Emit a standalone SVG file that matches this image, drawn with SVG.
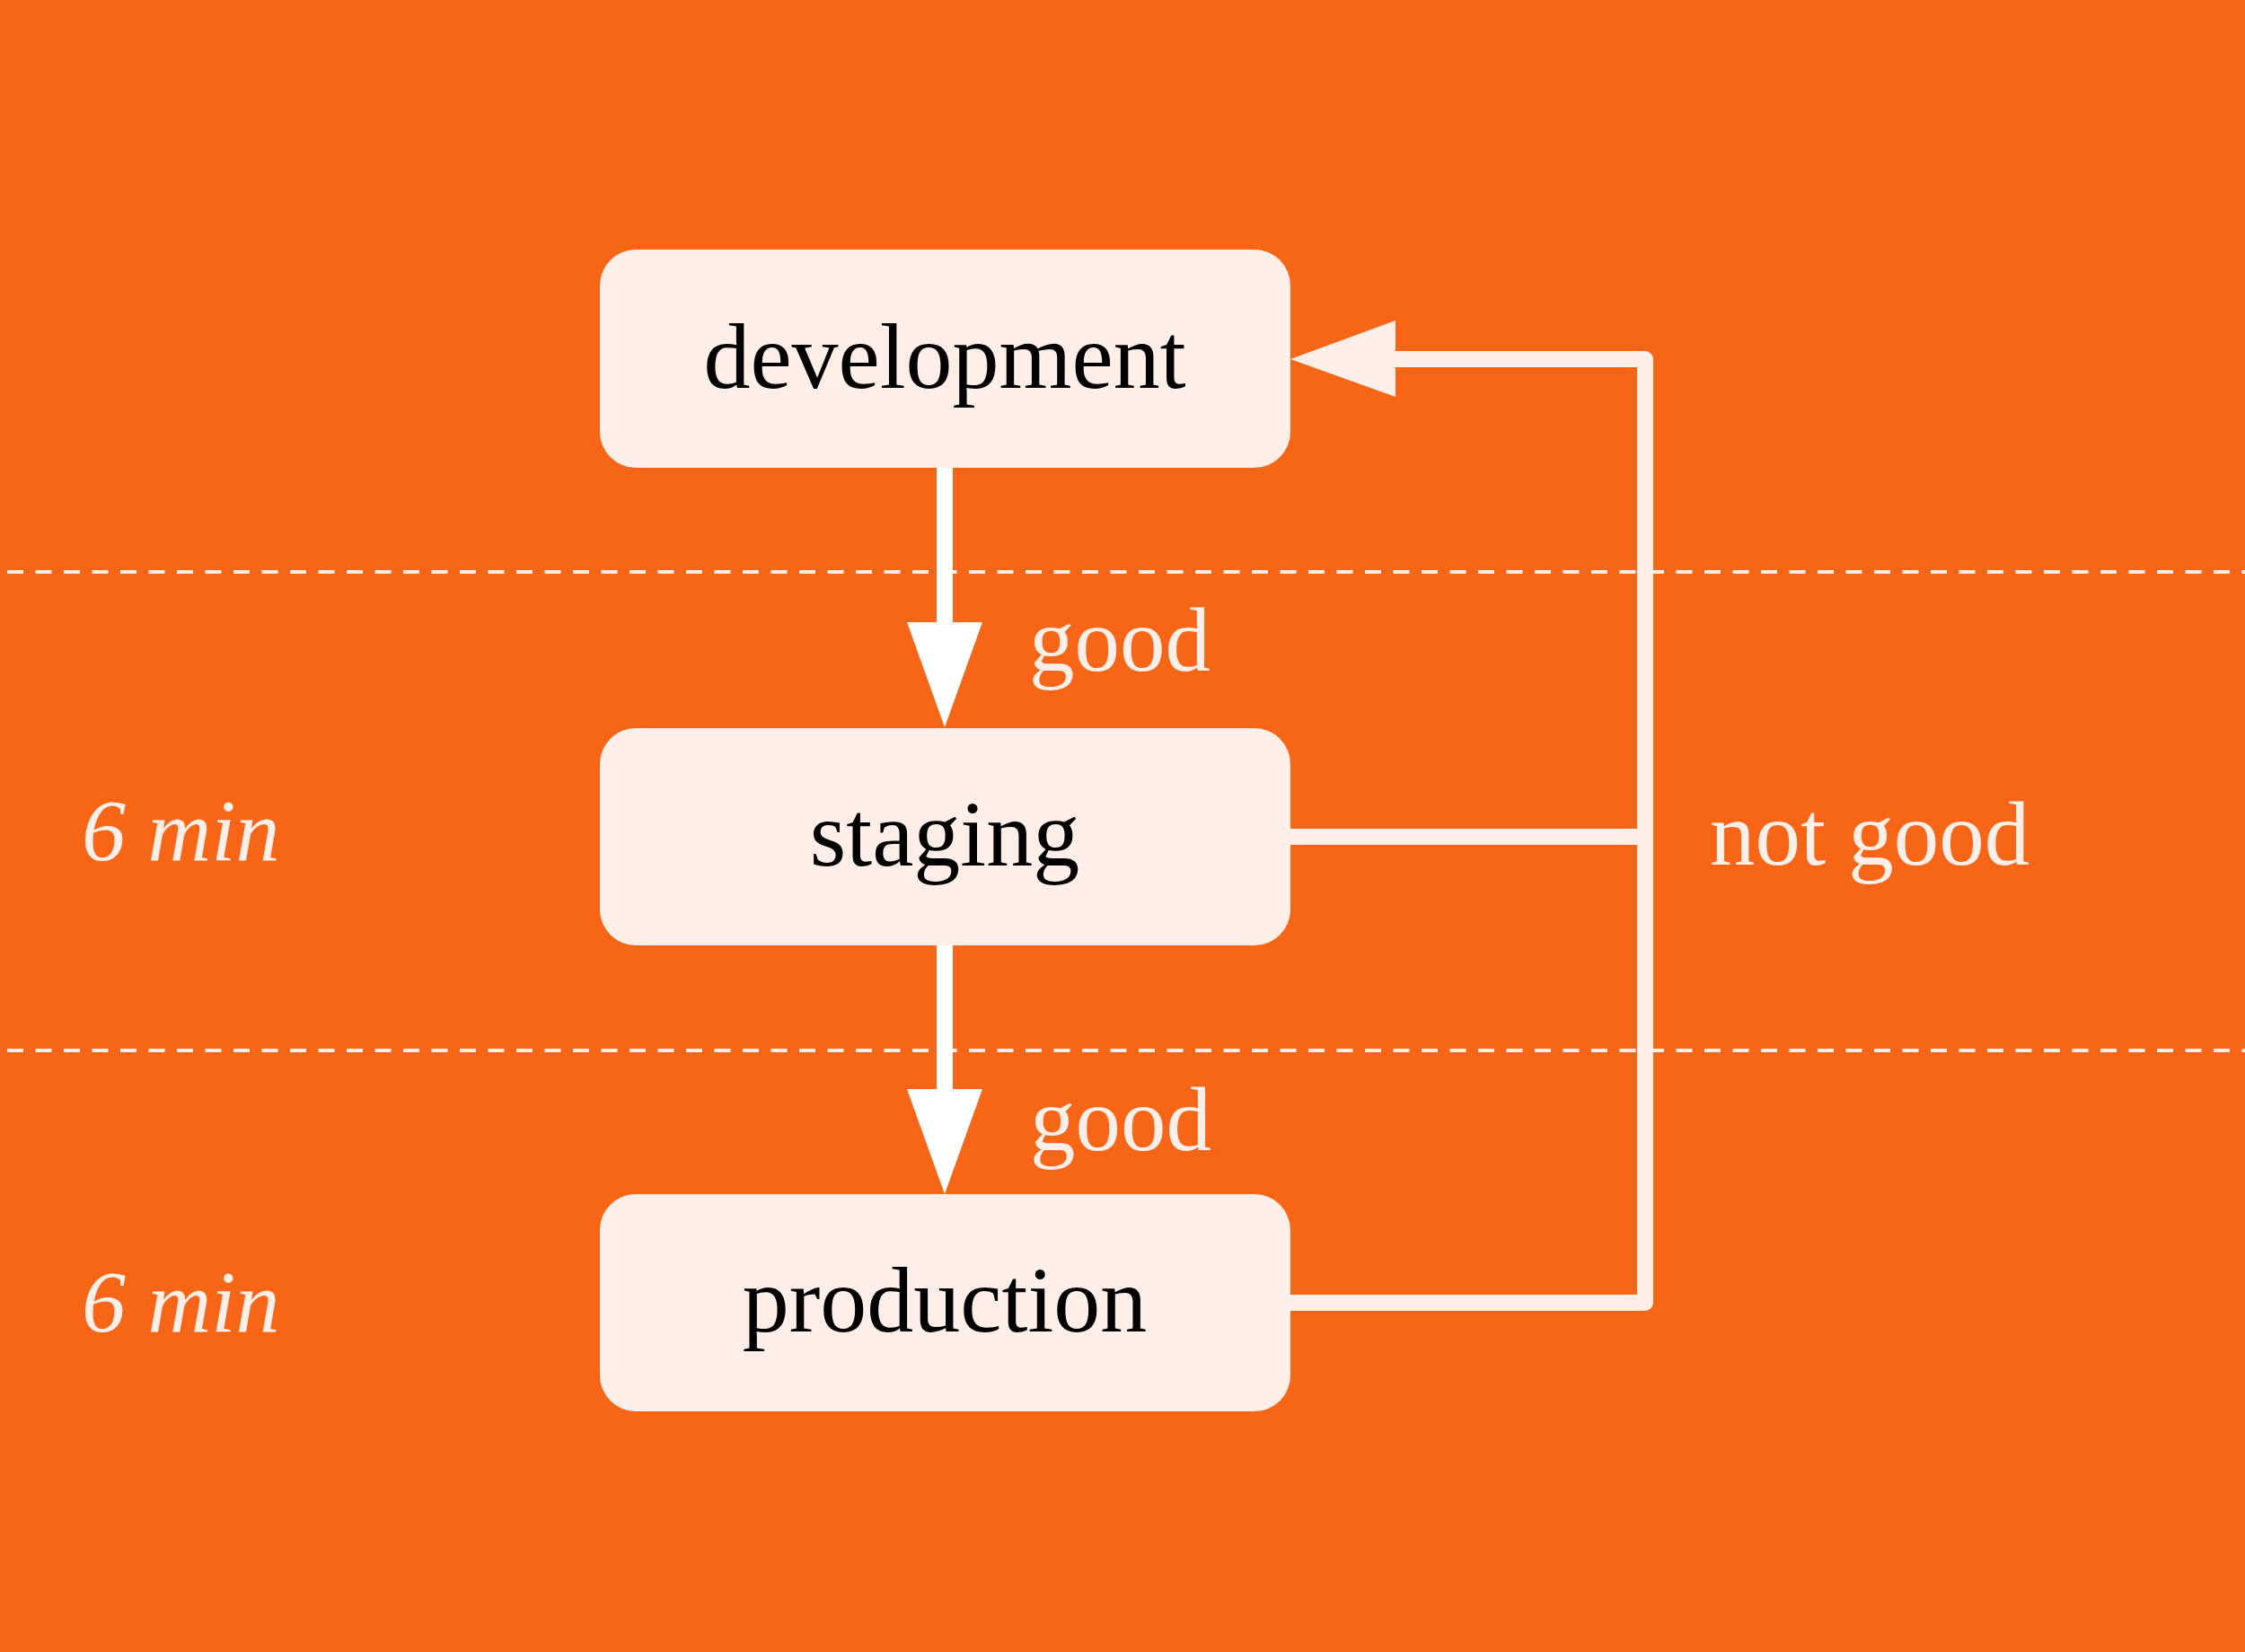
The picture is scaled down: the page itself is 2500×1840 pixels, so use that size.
<svg xmlns="http://www.w3.org/2000/svg" width="2500" height="1840" viewBox="0 0 2500 1840">
  <style>
    .bg { fill: #F76617; }
    .box { fill: #FFEFE8; }
    .nodetext { font-family: "Liberation Serif", "Times New Roman", serif; font-size: 104px; fill: #000000; text-anchor: middle; }
    .label { font-family: "Liberation Serif", "Times New Roman", serif; font-size: 101px; fill: #FFEFE8; }
    .time { font-family: "Liberation Serif", "Times New Roman", serif; font-size: 98px; font-style: italic; fill: #FFEFE8; }
    .sep { stroke: #FFEFE8; stroke-width: 4; stroke-dasharray: 18 13.5; fill: none; }
    .flow { stroke: #FFFFFF; stroke-width: 18; fill: none; }
    .back { stroke: #FFEFE8; stroke-width: 18; fill: none; stroke-linejoin: round; }
    .headw { fill: #FFFFFF; }
    .headc { fill: #FFEFE8; }
  </style>
  <rect class="bg" x="0" y="0" width="2500" height="1840"/>

  <g id="separators">
    <line class="sep" x1="8" y1="637" x2="2500" y2="637"/>
    <line class="sep" x1="8" y1="1170" x2="2500" y2="1170"/>
  </g>

  <g id="connectors">
    <line class="flow" x1="1052" y1="520" x2="1052" y2="694"/>
    <polygon class="headw" points="1010,693 1094,693 1052,810"/>
    <line class="flow" x1="1052" y1="1052" x2="1052" y2="1214"/>
    <polygon class="headw" points="1010,1213 1094,1213 1052,1330"/>
    <path class="back" d="M1436 932 H1832"/>
    <path class="back" d="M1436 1451 H1832 V400 H1553"/>
    <polygon class="headc" points="1554,357 1554,442 1437,400"/>
  </g>

  <g id="node-development">
    <rect class="box" x="668" y="278" width="769" height="243" rx="40" ry="40"/>
    <text class="nodetext" x="1052" y="432">development</text>
  </g>
  <g id="node-staging">
    <rect class="box" x="668" y="811" width="769" height="242" rx="40" ry="40"/>
    <text class="nodetext" x="1052" y="964">staging</text>
  </g>
  <g id="node-production">
    <rect class="box" x="668" y="1330" width="769" height="242" rx="40" ry="40"/>
    <text class="nodetext" x="1052" y="1483">production</text>
  </g>

  <g id="labels">
    <text class="label" x="1146" y="747">good</text>
    <text class="label" x="1147" y="1281">good</text>
    <text class="label" x="1904" y="963">not good</text>
    <text class="time" x="91" y="958">6 min</text>
    <text class="time" x="91" y="1483">6 min</text>
  </g>
</svg>
